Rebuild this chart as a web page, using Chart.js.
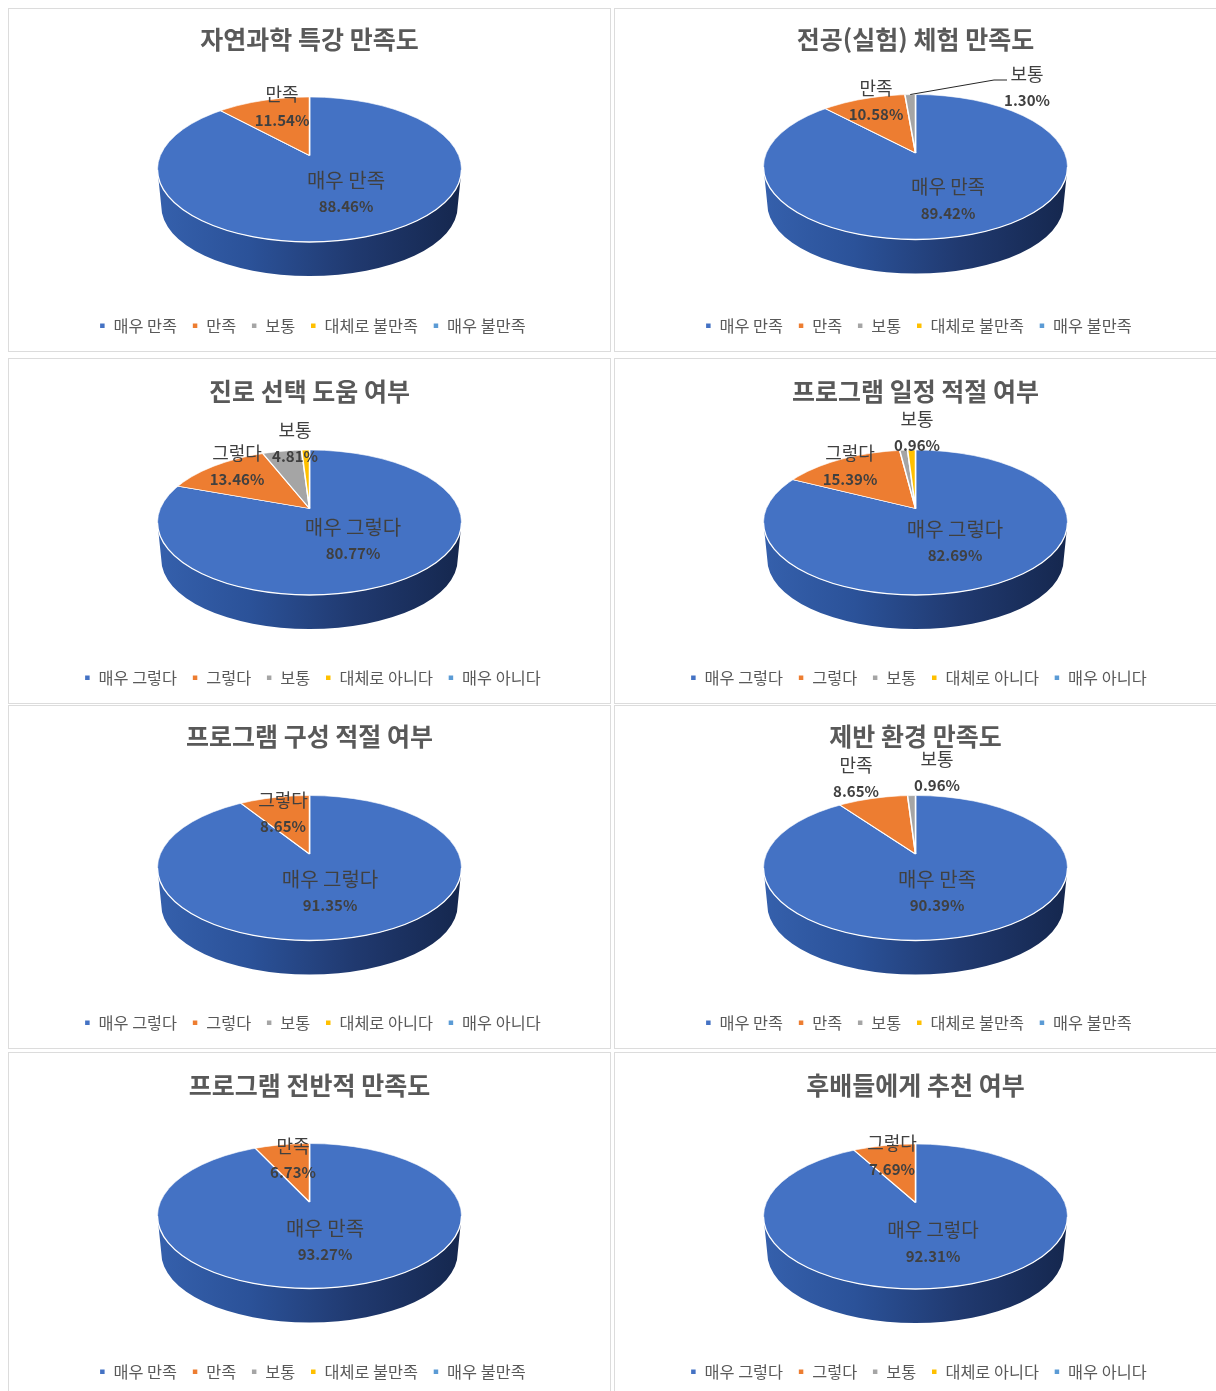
<!DOCTYPE html>
<html lang="ko">
<head>
<meta charset="utf-8">
<title>만족도 조사</title>
<script src="https://cdn.jsdelivr.net/npm/chart.js@4"></script>
<style>
  html, body { margin: 0; padding: 0; background: #fff; }
  #page { position: relative; width: 1216px; height: 1391px; overflow: hidden; }
  .panel { position: absolute; box-sizing: border-box; border: 1px solid #dcdcdc; background: #fff; }
  .panel canvas { position: absolute; left: -1px; top: -1px; filter: blur(0.4px); }
</style>
</head>
<body>
<div id="page"></div>
<script>
// data
const satisfyLabels = ['매우 만족', '만족', '보통', '대체로 불만족', '매우 불만족'];
const agreeLabels = ['매우 그렇다', '그렇다', '보통', '대체로 아니다', '매우 아니다'];

const titles = [
  '자연과학 특강 만족도', '전공(실험) 체험 만족도',
  '진로 선택 도움 여부', '프로그램 일정 적절 여부',
  '프로그램 구성 적절 여부', '제반 환경 만족도',
  '프로그램 전반적 만족도', '후배들에게 추천 여부'
];
const categories = [
  satisfyLabels, satisfyLabels,
  agreeLabels, agreeLabels,
  agreeLabels, satisfyLabels,
  satisfyLabels, agreeLabels
];
const values = [
  [88.46, 11.54, 0, 0, 0],
  [89.42, 10.58, 1.30, 0, 0],
  [80.77, 13.46, 4.81, 0.96, 0],
  [82.69, 15.39, 0.96, 0.96, 0],
  [91.35, 8.65, 0, 0, 0],
  [90.39, 8.65, 0.96, 0, 0],
  [93.27, 6.73, 0, 0, 0],
  [92.31, 7.69, 0, 0, 0]
];
const colors = ['#4472C4', '#ED7D31', '#A5A5A5', '#FFC000', '#5B9BD5'];

// layout, kept apart from the data
const panelLeft = [8, 614];
const panelTop = [8, 358, 705, 1052];
const panelHeight = [344, 346, 344, 346];
const pieCenterY = [161.5, 159, 164.5, 164.5, 163, 163, 164, 164.5];
const titleTop = [16, 16, 18, 18, 16, 16, 18, 18];
const mainLabelSize = [20, 19, 20, 20, 20, 20, 20, 19];
const TOP_RX = 152;
const TOP_RY = 72.5;
const APEX_RISE = 14;       // slices meet above the ellipse centre, like the 3D view
const SLICE_FLATTEN = 0.447;
const SLICE_RADIUS = 215;   // drawn oversize, then clipped to the ellipse
const WALL_DROP = 37;

// where each slice's name goes, from the pie centre; the percent sits under it
const labelSpots = [
  [[36.5, 10.5], [-27.5, -75.5]],
  [[32.5, 20], [-39.5, -79], [111.5, -93]],
  [[43.5, 4.5], [-72.5, -69.5], [-14.5, -92.5]],
  [[39.5, 6.5], [-65.5, -69.5], [1.5, -103.5]],
  [[20.5, 11], [-26.5, -68]],
  [[21.5, 11], [-59.5, -103], [21.5, -109]],
  [[15.5, 12], [-16.5, -70]],
  [[17.5, 13.5], [-23.5, -73.5]]
];

Chart.defaults.font.family = '"Noto Sans CJK KR", "Noto Sans", sans-serif';

const pie3d = {
  id: 'pie3d',
  afterLayout(chart) {
    // legend sits a little right of the title in the original
    chart.legend.left += 3;
    chart.legend.right += 3;
  },
  beforeDatasetsDraw(chart, args, opts) {
    const ctx = chart.ctx;
    const arc = chart.getDatasetMeta(0).data[0];
    const cx = arc.x;
    const cy = opts.centerY;
    const wall = ctx.createLinearGradient(cx - TOP_RX, 0, cx + TOP_RX, 0);
    wall.addColorStop(0, '#3560AC');
    wall.addColorStop(0.3, '#2B5299');
    wall.addColorStop(0.65, '#20396F');
    wall.addColorStop(1, '#15274E');
    ctx.save();
    ctx.fillStyle = wall;
    ctx.beginPath();
    ctx.ellipse(cx, cy, TOP_RX, TOP_RY, 0, 0, Math.PI);
    ctx.ellipse(cx, cy + WALL_DROP, TOP_RX * 0.975, TOP_RY * 0.96, 0, Math.PI, 0, true);
    ctx.closePath();
    ctx.fill();
    ctx.restore();

    ctx.save();
    ctx.beginPath();
    ctx.ellipse(cx, cy, TOP_RX, TOP_RY, 0, 0, Math.PI * 2);
    ctx.clip();
    ctx.translate(cx, cy - APEX_RISE);
    ctx.scale(1, SLICE_FLATTEN);
    ctx.translate(-cx, -arc.y);
  },
  afterDatasetsDraw(chart, args, opts) {
    const ctx = chart.ctx;
    ctx.restore();
    const cx = chart.getDatasetMeta(0).data[0].x;
    ctx.save();
    ctx.strokeStyle = '#ffffff';
    ctx.lineWidth = 1.3;
    ctx.beginPath();
    ctx.ellipse(cx, opts.centerY, TOP_RX, TOP_RY, 0, 0, Math.PI);
    ctx.stroke();
    ctx.strokeStyle = 'rgba(255,255,255,0.6)';
    ctx.lineWidth = 1;
    ctx.beginPath();
    ctx.ellipse(cx, opts.centerY, TOP_RX, TOP_RY, 0, Math.PI, Math.PI * 2);
    ctx.stroke();
    ctx.restore();
  },
  afterDraw(chart, args, opts) {
    const ctx = chart.ctx;
    const arcs = chart.getDatasetMeta(0).data;
    const cx = arcs[0].x;
    const cy = opts.centerY;
    const vals = chart.data.datasets[0].data;
    ctx.save();
    ctx.textAlign = 'center';
    ctx.textBaseline = 'middle';
    ctx.fillStyle = '#404040';
    opts.spots.forEach(function (spot, i) {
      const x = cx + spot[0];
      const y = cy + spot[1];
      ctx.font = (i === 0 ? opts.mainSize : 18) + 'px ' + Chart.defaults.font.family;
      ctx.fillText(chart.data.labels[i], x, y);
      ctx.font = 'bold 15px ' + Chart.defaults.font.family;
      ctx.fillText(vals[i].toFixed(2) + '%', x, y + 26.5);
    });
    if (opts.leaderSlice !== undefined) {
      // thin line from the small slice up to its label
      const arc = arcs[opts.leaderSlice];
      const spot = opts.spots[opts.leaderSlice];
      const mid = (arc.startAngle + arc.endAngle) / 2;
      const dx = Math.cos(mid);
      const dy = Math.sin(mid) * SLICE_FLATTEN;
      // where the slice's middle line leaves the ellipse
      const a = dx * dx / (TOP_RX * TOP_RX) + dy * dy / (TOP_RY * TOP_RY);
      const b = -2 * dy * APEX_RISE / (TOP_RY * TOP_RY);
      const c = APEX_RISE * APEX_RISE / (TOP_RY * TOP_RY) - 1;
      const t = (-b + Math.sqrt(b * b - 4 * a * c)) / (2 * a);
      ctx.strokeStyle = '#262626';
      ctx.lineWidth = 1;
      ctx.beginPath();
      ctx.moveTo(cx + t * dx, cy - APEX_RISE + t * dy);
      ctx.lineTo(cx + spot[0] - 33, cy + spot[1] + 6);
      ctx.lineTo(cx + spot[0] - 20, cy + spot[1] + 6);
      ctx.stroke();
    }
    ctx.restore();
  }
};

const page = document.getElementById('page');
titles.forEach(function (title, i) {
  const row = Math.floor(i / 2);
  const panel = document.createElement('div');
  panel.className = 'panel';
  panel.style.left = panelLeft[i % 2] + 'px';
  panel.style.top = panelTop[row] + 'px';
  panel.style.width = '603px';
  panel.style.height = panelHeight[row] + 'px';
  const canvas = document.createElement('canvas');
  canvas.width = 603;
  canvas.height = panelHeight[row];
  panel.appendChild(canvas);
  page.appendChild(panel);

  new Chart(canvas, {
    type: 'pie',
    data: {
      labels: categories[i],
      datasets: [{
        data: values[i],
        backgroundColor: colors,
        borderColor: '#ffffff',
        borderWidth: 1.5,
        radius: SLICE_RADIUS,
        clip: false
      }]
    },
    options: {
      responsive: false,
      animation: false,
      events: [],
      layout: { padding: { bottom: 8 } },
      plugins: {
        title: {
          display: true,
          text: title,
          color: '#595959',
          font: { size: 25, weight: 'bold' },
          padding: { top: titleTop[i], bottom: 0 }
        },
        legend: {
          display: true,
          position: 'bottom',
          labels: {
            usePointStyle: true,
            pointStyle: 'rect',
            boxWidth: 6,
            boxHeight: 6,
            padding: 15,
            color: '#595959',
            font: { size: 16.3 }
          }
        },
        tooltip: { enabled: false },
        pie3d: {
          centerY: pieCenterY[i],
          spots: labelSpots[i],
          mainSize: mainLabelSize[i],
          leaderSlice: i === 1 ? 2 : undefined
        }
      }
    },
    plugins: [pie3d]
  });
});
</script>
</body>
</html>
